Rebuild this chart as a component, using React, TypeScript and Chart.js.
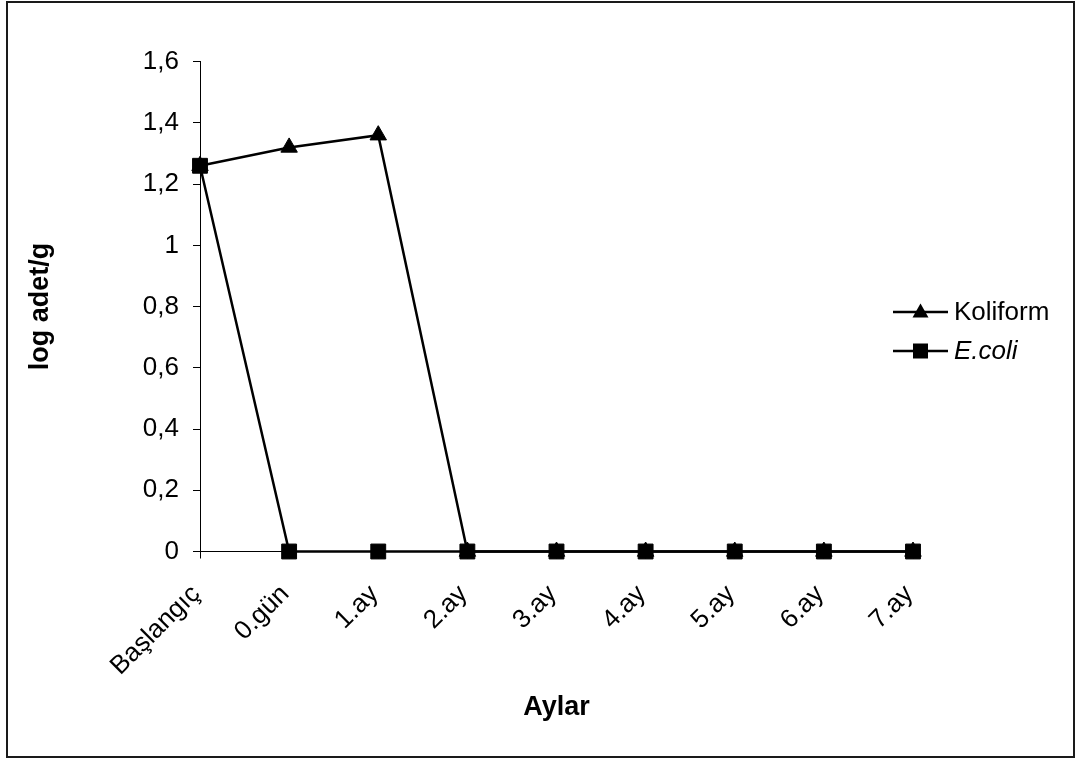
import React, { useEffect, useRef } from "react";
import { Chart, registerables } from "chart.js";

Chart.register(...registerables);

// Sampling points (months of storage)
const categories = ["Başlangıç", "0.gün", "1.ay", "2.ay", "3.ay", "4.ay", "5.ay", "6.ay", "7.ay"];
// log count per gram
const koliform = [1.26, 1.32, 1.36, 0, 0, 0, 0, 0, 0];
const ecoli = [1.26, 0, 0, 0, 0, 0, 0, 0, 0];
const yTicks = [0, 0.2, 0.4, 0.6, 0.8, 1, 1.2, 1.4, 1.6];

const FONT = "'Liberation Sans', Arial, Helvetica, sans-serif";
const W = 1075;
const H = 760;

// Outer frame and the custom legend (line through marker, italic E.coli)
const framePlugin = {
  id: "frameAndLegend",
  afterDraw(chart: any) {
    const ctx = chart.ctx as CanvasRenderingContext2D;
    ctx.save();
    ctx.strokeStyle = "#1a1a1a";
    ctx.lineWidth = 2;
    ctx.strokeRect(7, 2, 1067, 755);

    const items = [
      { label: "Koliform", y: 312, shape: "triangle", italic: false },
      { label: "E.coli", y: 351, shape: "square", italic: true },
    ];
    for (const it of items) {
      ctx.strokeStyle = "#000";
      ctx.fillStyle = "#000";
      ctx.lineWidth = 2.5;
      ctx.beginPath();
      ctx.moveTo(893, it.y);
      ctx.lineTo(948, it.y);
      ctx.stroke();
      const cx = 920.5;
      ctx.beginPath();
      if (it.shape === "triangle") {
        ctx.moveTo(cx, it.y - 8.5);
        ctx.lineTo(cx + 8, it.y + 5.5);
        ctx.lineTo(cx - 8, it.y + 5.5);
        ctx.closePath();
      } else {
        ctx.rect(cx - 7.5, it.y - 7.5, 15, 15);
      }
      ctx.fill();
      ctx.font = `${it.italic ? "italic " : ""}26px ${FONT}`;
      ctx.textAlign = "left";
      ctx.textBaseline = "middle";
      ctx.fillText(it.label, 954, it.y + 1);
    }
    ctx.restore();
  },
};

export default function App() {
  const canvasRef = useRef<HTMLCanvasElement | null>(null);

  useEffect(() => {
    const canvas = canvasRef.current;
    if (!canvas) return;
    const chart = new Chart(canvas, {
      type: "line",
      data: {
        labels: categories,
        datasets: [
          {
            label: "E.coli",
            data: ecoli,
            order: 0,
            borderColor: "#000",
            backgroundColor: "#000",
            borderWidth: 2.5,
            pointStyle: "rect",
            pointRadius: 10.5,
            pointBorderWidth: 1,
            pointBackgroundColor: "#000",
            pointBorderColor: "#000",
            tension: 0,
            clip: false,
          },
          {
            label: "Koliform",
            data: koliform,
            order: 1,
            borderColor: "#000",
            backgroundColor: "#000",
            borderWidth: 2.5,
            pointStyle: "triangle",
            pointRadius: 9.5,
            pointBorderWidth: 1,
            pointBackgroundColor: "#000",
            pointBorderColor: "#000",
            tension: 0,
            clip: false,
          },
        ],
      },
      options: {
        responsive: false,
        animation: false,
        events: [],
        layout: { padding: { top: 61.7, right: 162, bottom: 0, left: 0 } },
        plugins: {
          legend: { display: false },
          tooltip: { enabled: false },
        },
        scales: {
          x: {
            type: "category",
            offset: false,
            afterFit: (scale: any) => {
              scale.height = H - 551.5;
            },
            grid: {
              drawOnChartArea: false,
              drawTicks: true,
              tickLength: 7,
              color: "#000",
              lineWidth: 1,
            },
            border: { display: true, color: "#000", width: 1 },
            ticks: {
              autoSkip: false,
              maxRotation: 45,
              minRotation: 45,
              padding: 20.5,
              labelOffset: -4,
              color: "#000",
              font: { family: FONT, size: 26 },
            },
            title: {
              display: true,
              text: "Aylar",
              color: "#000",
              font: { family: FONT, size: 27, weight: "bold" },
              padding: { top: 0, bottom: 35.8 },
            },
          },
          y: {
            type: "linear",
            min: 0,
            max: 1.6,
            afterFit: (scale: any) => {
              scale.width = 200;
            },
            afterBuildTicks: (scale: any) => {
              scale.ticks = yTicks.map((v) => ({ value: v }));
            },
            grid: {
              drawOnChartArea: false,
              drawTicks: true,
              tickLength: 7,
              color: "#000",
              lineWidth: 1,
            },
            border: { display: true, color: "#000", width: 1 },
            ticks: {
              padding: 14,
              color: "#000",
              font: { family: FONT, size: 26 },
              callback: (v: any) => String(Number(Number(v).toFixed(1))).replace(".", ","),
            },
            title: {
              display: true,
              text: "log adet/g",
              color: "#000",
              font: { family: FONT, size: 27, weight: "bold" },
              padding: { top: 24.8, bottom: 0 },
            },
          },
        },
      },
      plugins: [framePlugin],
    } as any);
    return () => chart.destroy();
  }, []);

  return (
    <div style={{ position: "fixed", left: 0, top: 0, width: W, height: H, background: "#fff" }}>
      <canvas ref={canvasRef} width={W} height={H} style={{ display: "block" }} />
    </div>
  );
}
